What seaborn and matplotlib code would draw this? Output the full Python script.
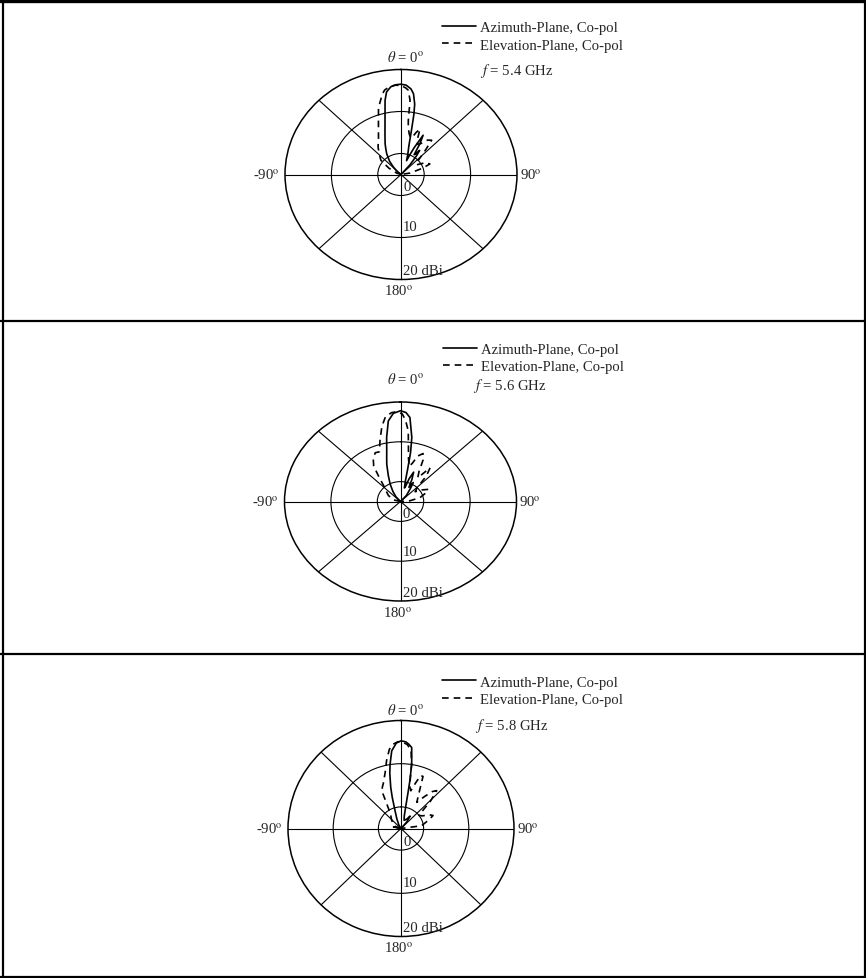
import numpy as np
import pandas as pd
import matplotlib
matplotlib.use('Agg')
import matplotlib.pyplot as plt
import seaborn as sns
from matplotlib.lines import Line2D
from matplotlib.ticker import NullFormatter

# ---------------- data (angle in deg, gain in dBi, -5 = centre of the plot) ----------------
planes = ['Azimuth-Plane, Co-pol', 'Elevation-Plane, Co-pol']
freqs = ['5.4', '5.6', '5.8']

az54_deg = [-90, -60, -50, -43, -38, -32, -28, -25, -20, -16, -13, -11, -9, -6, -3, 0, 3, 6, 8, 10,
            11, 12, 14, 17, 20, 22, 24, 27, 29, 31, 33, 35, 37, 40, 50, 90]
az54_db = [-5, -5, -4, -2.6, -1, 0.8, 2, 3.1, 5.1, 7.5, 10.3, 13, 14.9, 16, 16.4, 16.5, 16.3, 15.5, 14.4, 12,
           9.5, 6, 2, 0, -1.5, 0, 2, 5.5, 3.5, 0.5, 1, 2, 0.5, -2, -5, -5]
el54_deg = [-90, -70, -60, -52, -47, -42, -38, -34, -30, -25, -20, -17, -14, -12, -10, -7, -3.5, 0, 3, 4.5,
            6.3, 7, 8, 10, 13, 16, 18, 20.7, 23, 26, 30, 35, 39, 42, 48, 55, 62, 68, 72, 80, 90]
el54_db = [-5, -4, -2, 0.5, 1.2, 2, 3, 3.8, 4.7, 6.5, 9.2, 11.6, 13.2, 14.5, 15.4, 16, 16.3, 16.2, 15.6, 15.1,
           12.8, 7.9, 6.3, 5, 4, 4.5, 5.5, 6.6, 4, 3, 3.5, 5, 5.5, 3, 0, -1, 1, 1.7, 0, -3, -5]

az56_deg = [-90, -50, -40, -33, -27, -22, -17.6, -15, -13, -10.5, -7.4, -4, 0, 3, 5.5, 8.6, 10, 10.8,
            11.5, 14, 16, 18, 21, 24, 27, 30, 33, 40, 90]
az56_db = [-5, -5, -3.5, -2, -0.1, 2, 4.8, 6.5, 8.2, 11.4, 15.4, 17.2, 17.8, 17.4, 16.2, 11.3, 7.5, 3,
           0.3, -1.5, -1, 1, 2.9, 1, -1, 0.5, -1, -3, -5]
el56_deg = [-90, -75, -60, -50, -42, -37, -33, -29, -24, -20, -16, -12, -8.7, -5, -2, 1, 3, 5.4, 7, 9,
            12, 15, 18, 22, 25, 28, 32, 37, 41, 46, 52, 58, 63, 68, 77, 85, 90]
el56_db = [-5, -3.5, -2, -1, 0.5, 2.7, 5.6, 7.1, 8.4, 8.3, 11, 14.3, 16.5, 17.4, 17.6, 17, 15.5, 12.8, 9, 6,
           4, 5, 7, 8, 6.5, 3.5, 2, 5.6, 3.5, 0, -1, 0.5, 1.7, 1, -0.7, -3, -5]

az58_deg = [-90, -78, -70, -50, -30, -22, -17.8, -15, -13.4, -11, -9.2, -6.5, -3, 0, 3, 5, 7.2, 9, 10,
            10.5, 11.5, 14, 20, 30, 35, 40, 50, 90]
az58_db = [-5, -3.3, -4, -5, -4, -2.5, -0.7, 2.5, 4.8, 8, 10.1, 13.1, 14.8, 15.3, 15.1, 14.6, 13.9, 10.1, 6.5,
           3.9, 0.5, -2, -3, -2.5, -1.5, -3, -5, -5]
el58_deg = [-90, -75, -60, -45, -35, -28, -26, -23, -20.7, -15, -11.4, -8, -5, -2, 1, 4, 7, 9, 11, 14,
            17, 19.5, 22, 26, 30, 35, 39, 42, 46, 52, 58, 63, 67, 72, 82, 90]
el58_db = [-5, -4, -3, -2, -1, 2.2, 4.7, 5.5, 6.1, 8.5, 11.1, 13.5, 14.6, 15.1, 15.0, 14.5, 13.3, 10, 5, 4,
           6, 8, 8, 4, 2, 4, 6, 6.8, 4, 0, 0.5, 2, 2.7, 1.5, -0.4, -5]

curves = [(az54_deg, az54_db, el54_deg, el54_db),
          (az56_deg, az56_db, el56_deg, el56_db),
          (az58_deg, az58_db, el58_deg, el58_db)]

# ---------------- layout (pixels of the 866x979 picture) ----------------
W, H = 866, 979
# centre x, centre y, radius x, radius y, legend x, legend row-1 y, f-label x, f-label y, theta-label y
layout = [
    (401, 175.5, 116, 105, 442, 30, 480, 71, 58),
    (400.5, 502.5, 116, 99.5, 443, 351.5, 473, 386, 380),
    (401, 829.5, 113, 108, 442, 684.3, 475, 725.7, 711),
]
FS = 10.6

sns.set_style('white')
plt.rcParams['font.family'] = ['Liberation Serif', 'DejaVu Serif']
plt.rcParams['mathtext.fontset'] = 'stix'
plt.rcParams['axes.unicode_minus'] = False

fig = plt.figure(figsize=(W / 100, H / 100), dpi=100)
deg = r'$^{\rm o}$'

for (azd, azg, eld, elg), freq, (cx, cy, rx, ry, lx, ly, fx, fy, ty) in zip(curves, freqs, layout):
    ax = fig.add_axes([(cx - rx) / W, 1 - (cy + ry) / H, 2 * rx / W, 2 * ry / H], projection='polar')
    ax.set_aspect('auto')
    ax.set_theta_zero_location('N')
    ax.set_theta_direction(-1)
    ax.set_rlim(-5, 20)
    ax.set_rticks([0, 10])
    ax.set_thetagrids(np.arange(0, 360, 45))
    ax.xaxis.set_major_formatter(NullFormatter())
    ax.yaxis.set_major_formatter(NullFormatter())
    ax.grid(True, color='black', lw=0.8, ls='-')
    ax.spines['polar'].set_color('black')
    ax.spines['polar'].set_linewidth(1.1)
    ax.set_facecolor('none')

    df = pd.DataFrame({
        'theta': np.deg2rad(np.array(azd + eld, dtype=float)),
        'gain': np.clip(np.array(azg + elg, dtype=float), -5, None),
        'plane': [planes[0]] * len(azd) + [planes[1]] * len(eld),
    })
    sns.lineplot(data=df, x='theta', y='gain', style='plane',
                 dashes={planes[0]: '', planes[1]: (4, 3)},
                 color='black', lw=1.2, sort=False, estimator=None,
                 legend=False, ax=ax)
    ax.set_xlabel('')
    ax.set_ylabel('')

    lines = ax.get_lines()[:2]
    ax.legend(lines, planes, loc='upper left',
              bbox_to_anchor=(lx / W, 1 - (ly - 8) / H), bbox_transform=fig.transFigure,
              frameon=False, fontsize=FS, handlelength=2.3, handletextpad=0.25,
              labelspacing=0.27, borderpad=0, borderaxespad=0)
    fig.text(fx / W, 1 - fy / H, '$f$ = ' + freq + ' GHz', ha='left', va='center', fontsize=FS)
    fig.text((cx + 5) / W, 1 - ty / H, r'$\theta$ = 0' + deg, ha='center', va='center', fontsize=FS)

    # angle labels
    ax.annotate('-90' + deg, xy=(-np.pi / 2, 20), xytext=(-4, 0), textcoords='offset points',
                ha='right', va='center', fontsize=FS, annotation_clip=False)
    ax.annotate('90' + deg, xy=(np.pi / 2, 20), xytext=(2, 0), textcoords='offset points',
                ha='left', va='center', fontsize=FS, annotation_clip=False)
    ax.annotate('180' + deg, xy=(np.pi, 20), xytext=(-2, -3), textcoords='offset points',
                ha='center', va='top', fontsize=FS, annotation_clip=False)
    # radial labels
    for r, txt in [(-2.1, '0'), (7.5, '10'), (17.9, '20 dBi')]:
        ax.annotate(txt, xy=(np.pi, r), xytext=(1.5, 0), textcoords='offset points',
                    ha='left', va='center', fontsize=FS)

# panel borders
for y, lw in [(1.5, 2.4), (321.5, 1.6), (654.5, 1.6), (977.5, 1.6)]:
    fig.add_artist(Line2D([0, 1], [1 - y / H, 1 - y / H], transform=fig.transFigure, color='black', lw=lw))
for x in [2.5, 864.5]:
    fig.add_artist(Line2D([x / W, x / W], [0, 1], transform=fig.transFigure, color='black', lw=1.6))

fig.savefig('out.png', dpi=100, facecolor='white')
